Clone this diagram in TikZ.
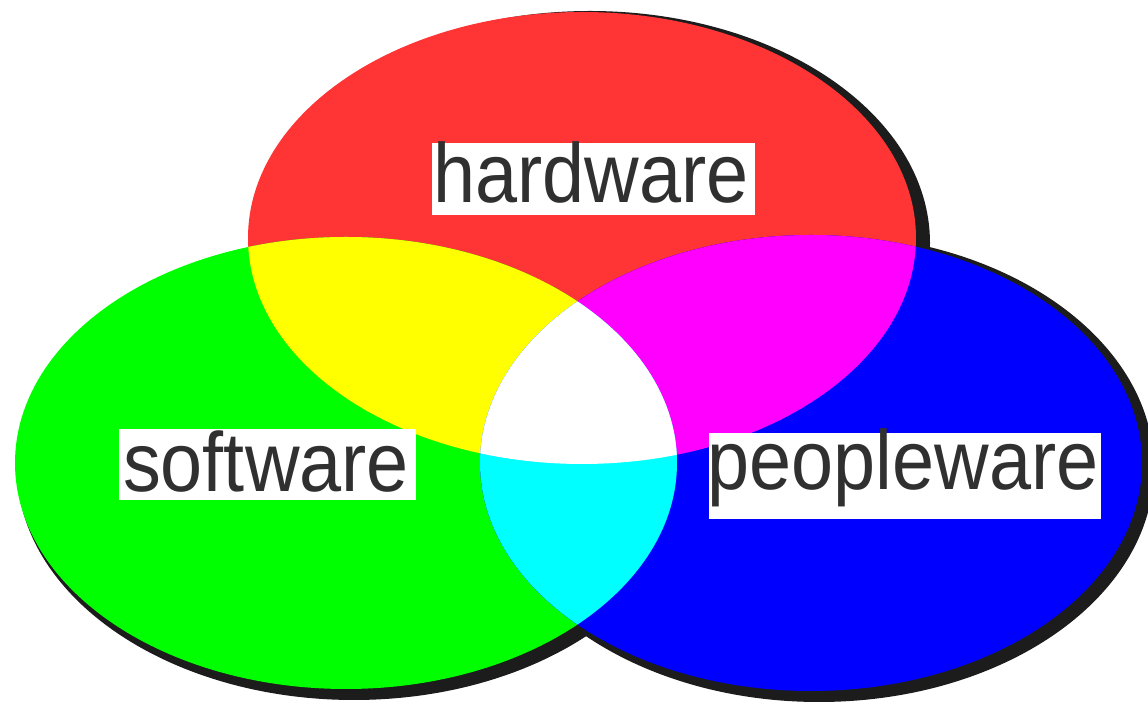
\documentclass[tikz,border=0pt]{standalone}
\usepackage{fontspec}
\newfontfamily\lblfont[FakeStretch=0.9]{Liberation Sans}
\usetikzlibrary{fit}
\definecolor{hwred}{RGB}{255,52,52}
\definecolor{swgreen}{RGB}{0,255,0}
\definecolor{pwblue}{RGB}{0,0,255}
\definecolor{ovyellow}{RGB}{255,255,0}
\definecolor{ovmagenta}{RGB}{255,0,255}
\definecolor{ovcyan}{RGB}{0,255,255}
\definecolor{shadowcol}{RGB}{28,28,28}
\definecolor{lblcol}{RGB}{48,48,48}
\begin{document}
\begin{tikzpicture}[x=0.5pt,y=-0.5pt,
  lblbox/.style={fill=white, inner sep=0pt, draw=none},
  lbltext/.style={font=\lblfont\fontsize{42}{42}\selectfont, text=lblcol, inner sep=0pt, anchor=base}]
\useasboundingbox (0,0) rectangle (1148,704);
% centres
\coordinate (rc) at (582,238);
\coordinate (gc) at (346,463);
\coordinate (bc) at (811,463);
\coordinate (rs) at (590,243);
\coordinate (gs) at (354,468);
\coordinate (bs) at (819,468);
% shadows
\fill[shadowcol] (rs) ellipse [x radius=340, y radius=232];
\fill[shadowcol] (gs) ellipse [x radius=337, y radius=232];
\fill[shadowcol] (bs) ellipse [x radius=335, y radius=234];
% main ellipses
\fill[hwred] (rc) ellipse [x radius=334, y radius=226];
\fill[swgreen] (gc) ellipse [x radius=331, y radius=226];
\fill[pwblue] (bc) ellipse [x radius=331, y radius=228];
% overlaps with red
\begin{scope}
  \clip (rc) ellipse [x radius=334, y radius=226];
  \fill[ovyellow] (gc) ellipse [x radius=331, y radius=226];
  \fill[ovmagenta] (bc) ellipse [x radius=331, y radius=228];
\end{scope}
% green-blue overlap and centre
\begin{scope}
  \clip (gc) ellipse [x radius=331, y radius=226];
  \fill[ovcyan] (bc) ellipse [x radius=331, y radius=228];
  \clip (bc) ellipse [x radius=331, y radius=228];
  \fill[white] (rc) ellipse [x radius=334, y radius=226];
\end{scope}
% labels
\coordinate (hwa) at (432,143); \coordinate (hwb) at (755,215);
\coordinate (swa) at (119,429); \coordinate (swb) at (416,500);
\coordinate (pwa) at (709,433); \coordinate (pwb) at (1101,519);
\node[lblbox, fit=(hwa) (hwb)] (hwbox) {};
\node[lblbox, fit=(swa) (swb)] (swbox) {};
\node[lblbox, fit=(pwa) (pwb)] (pwbox) {};
\node[lbltext] (hw) at (591,203) {hardware};
\node[lbltext] (sw) at (266,492) {software};
\node[lbltext] (pw) at (903,490) {peopleware};
\end{tikzpicture}
\end{document}
